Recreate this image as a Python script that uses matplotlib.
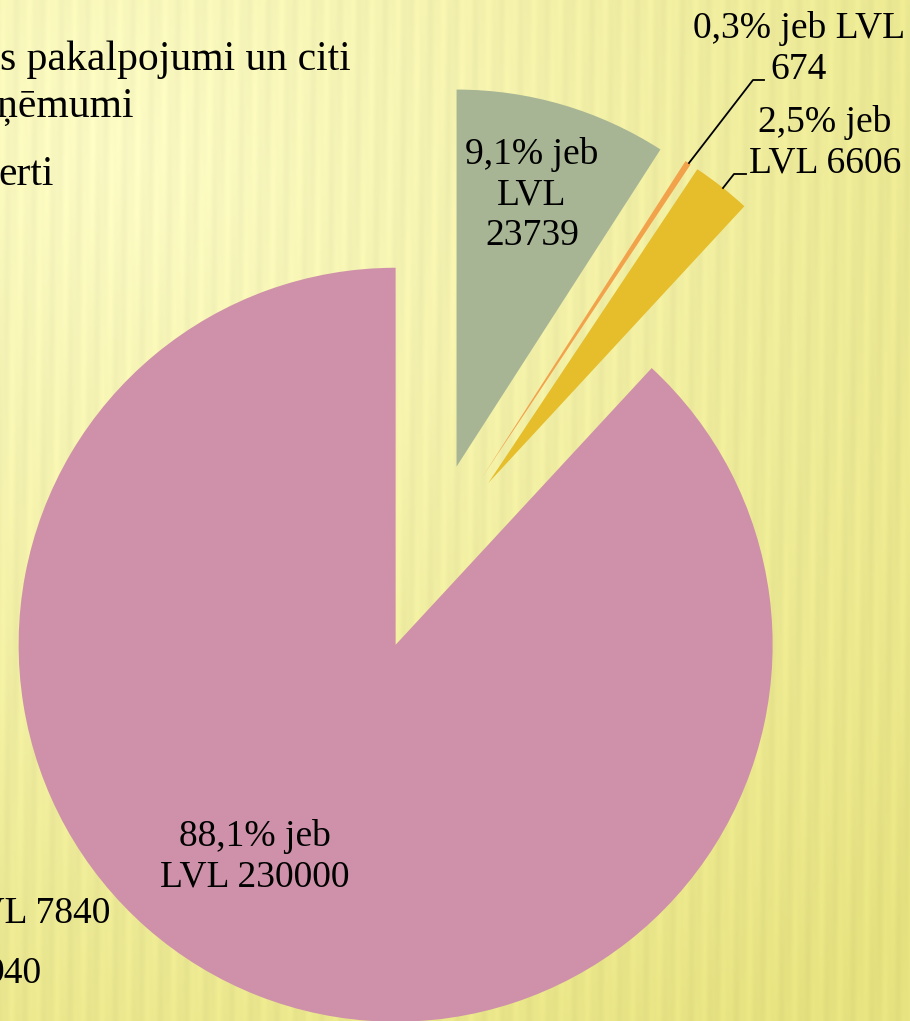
import numpy as np
import matplotlib
matplotlib.use("Agg")
import matplotlib.pyplot as plt

# ---- data ----
categories = ["Valsts dotācija", "Ziedojumi", "Maksas pakalpojumi", "Pašvaldības finansējums"]
values = [23739, 674, 6606, 230000]
percents = [9.1, 0.3, 2.5, 88.1]
colors = ["#A7B594", "#F2A24B", "#E6BD2B", "#CF91A9"]
label_templates = ["{p} jeb\nLVL\n{v}", "{p} jeb LVL\n{v}", "{p} jeb\nLVL {v}", "{p} jeb\nLVL {v}"]
legend_fragments = ["s pakalpojumi un citi", "ņēmumi", "erti", "LVL 7840", "940"]

W, H = 910, 1021
FS = 27
FS_LEG_TOP = 30
FONT = "Liberation Serif"

fig = plt.figure(figsize=(W / 100, H / 100), dpi=100)
ax = fig.add_axes([0, 0, 1, 1])

# ---- background: radial yellow gradient with soft stripes ----
yy, xx = np.mgrid[0:H, 0:W]
d = np.sqrt((xx - 120.0) ** 2 + (yy - 150.0) ** 2) / 1100.0
d = np.clip(d, 0, 1)
light = np.array([251, 250, 196]) / 255.0
dark = np.array([230, 226, 128]) / 255.0
img = light[None, None, :] * (1 - d[..., None]) + dark[None, None, :] * d[..., None]
stripes = 0.014 * np.sin(2 * np.pi * (xx + 0.04 * yy) / 23.0) + 0.006 * np.sin(2 * np.pi * xx / 9.0)
img = np.clip(img + stripes[..., None] * np.array([1, 1, 0.6]), 0, 1)
ax.imshow(img, extent=[0, W, 0, H], origin="upper", aspect="auto", zorder=0)

# ---- pie ----
def up(y):
    return H - y

R = 377
EXPL = 0.25 * R
center = (430, up(557))
ax.pie(values, colors=colors, startangle=90, counterclock=False,
       explode=[EXPL] * len(values), radius=R, center=center,
       wedgeprops=dict(linewidth=0), normalize=True)
ax.set_xlim(0, W)
ax.set_ylim(0, H)
ax.set_aspect("auto")
ax.axis("off")

def fmt(i):
    p = ("%.1f%%" % percents[i]).replace(".", ",")
    return label_templates[i].format(p=p, v=values[i])

label_pos = [(532, 195), (799, 49), (825, 143), (255, 857)]
for i, (x, y) in enumerate(label_pos):
    ax.text(x, up(y), fmt(i), ha="center", va="center", fontsize=FS,
            family=FONT, linespacing=1.22, zorder=5)

# leader lines
ax.plot([689, 753, 764], [up(163), up(80), up(80)], color="black", lw=1.3, zorder=4)
ax.plot([723, 734, 746], [up(188), up(174), up(174)], color="black", lw=1.3, zorder=4)

# cut-off legend text on the left (as in the cropped original)
frag_pos = [(0, 70), (-3, 117), (-2, 185), (-42, 922), (-14, 983)]
frag_fs = [FS_LEG_TOP, FS_LEG_TOP, FS_LEG_TOP, FS, FS]
for t, (x, y), fs in zip(legend_fragments, frag_pos, frag_fs):
    ax.text(x, up(y), t, ha="left", va="baseline", fontsize=fs, family=FONT, zorder=5)

fig.savefig("out.png", dpi=100)
